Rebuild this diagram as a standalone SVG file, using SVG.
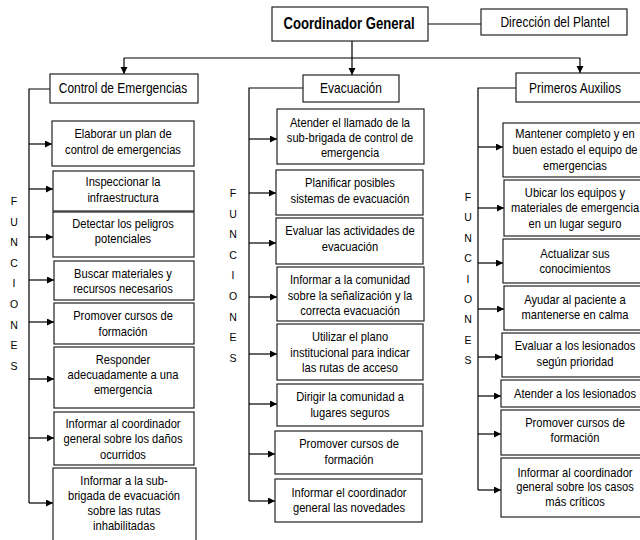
<svg xmlns="http://www.w3.org/2000/svg" width="640" height="540" viewBox="0 0 640 540">
<defs>
<marker id="ah" markerUnits="userSpaceOnUse" markerWidth="8" markerHeight="8" refX="7" refY="3.5" orient="auto">
<path d="M0,0 L7,3.5 L0,7 Z" fill="#000"/>
</marker>
<style>
text{font-family:"Liberation Sans",Arial,sans-serif;fill:#000;text-anchor:middle}
.b{font-size:13.6px}
.h{font-size:14.6px}
.t{font-size:16px;font-weight:bold}
.f{font-size:10.5px}
rect{fill:#fff;stroke:#222;stroke-width:1.2}
.c{fill:none;stroke:#000;stroke-width:1.2}
.a{marker-end:url(#ah)}
</style>
</defs>
<rect x="0" y="0" width="640" height="540" style="fill:#fff;stroke:none"/>

<g id="connectors">
<path class="c" d="M428,24 H481"/>
<path class="c" d="M352,41 V58 M124,58 H580"/>
<path class="c a" d="M124,58 V74"/>
<path class="c a" d="M352,58 V75"/>
<path class="c a" d="M580,58 V73"/>
<path class="c" d="M50,89 H29 V503"/>
<path class="c a" d="M29,144 H52"/>
<path class="c a" d="M29,189 H53"/>
<path class="c a" d="M29,237 H53"/>
<path class="c a" d="M29,280 H54"/>
<path class="c a" d="M29,322 H54"/>
<path class="c a" d="M29,379 H54"/>
<path class="c a" d="M29,438 H54"/>
<path class="c a" d="M29,503 H53"/>
<path class="c" d="M303,88 H249 V501"/>
<path class="c a" d="M249,139 H277"/>
<path class="c a" d="M249,193 H276"/>
<path class="c a" d="M249,243 H276"/>
<path class="c a" d="M249,297 H277"/>
<path class="c a" d="M249,354 H277"/>
<path class="c a" d="M249,404 H277"/>
<path class="c a" d="M249,454 H275"/>
<path class="c a" d="M249,501 H275"/>
<path class="c" d="M516,88 H478 V490"/>
<path class="c a" d="M478,147 H503"/>
<path class="c a" d="M478,208 H504"/>
<path class="c a" d="M478,263 H503"/>
<path class="c a" d="M478,309 H504"/>
<path class="c a" d="M478,357 H502"/>
<path class="c a" d="M478,396 H501"/>
<path class="c a" d="M478,434 H501"/>
<path class="c a" d="M478,490 H501"/>
</g>

<g id="coordinador"><rect x="272" y="7" width="156" height="34"/><g transform="translate(349 0) scale(.82 1)"><text class="t" x="0" y="29">Coordinador General</text></g></g>
<g id="direccion"><rect x="481" y="9" width="146" height="26"/><g transform="translate(555 0) scale(.82 1)"><text class="h" x="0" y="27">Dirección del Plantel</text></g></g>
<g id="control"><rect x="50" y="74" width="148" height="29"/><g transform="translate(123 0) scale(.82 1)"><text class="h" x="0" y="93">Control de Emergencias</text></g></g>
<g id="evacuacion"><rect x="303" y="75" width="96" height="27"/><g transform="translate(351 0) scale(.82 1)"><text class="h" x="0" y="93">Evacuación</text></g></g>
<g id="primeros"><rect x="516" y="73" width="140" height="29"/><g transform="translate(575 0) scale(.82 1)"><text class="h" x="0" y="93">Primeros Auxilios</text></g></g>

<g id="funciones-1"><text class="f"><tspan x="14" y="205">F</tspan><tspan x="14" y="226">U</tspan><tspan x="14" y="246">N</tspan><tspan x="14" y="267">C</tspan><tspan x="14" y="287">I</tspan><tspan x="14" y="308">O</tspan><tspan x="14" y="329">N</tspan><tspan x="14" y="349">E</tspan><tspan x="14" y="370">S</tspan></text></g>
<g id="funciones-2"><text class="f"><tspan x="233" y="197">F</tspan><tspan x="233" y="218">U</tspan><tspan x="233" y="238">N</tspan><tspan x="233" y="259">C</tspan><tspan x="233" y="279">I</tspan><tspan x="233" y="300">O</tspan><tspan x="233" y="321">N</tspan><tspan x="233" y="341">E</tspan><tspan x="233" y="362">S</tspan></text></g>
<g id="funciones-3"><text class="f"><tspan x="468" y="201">F</tspan><tspan x="468" y="221">U</tspan><tspan x="468" y="242">N</tspan><tspan x="468" y="262">C</tspan><tspan x="468" y="283">I</tspan><tspan x="468" y="303">O</tspan><tspan x="468" y="323">N</tspan><tspan x="468" y="344">E</tspan><tspan x="468" y="364">S</tspan></text></g>

<g id="ce1"><rect x="52" y="121" width="142" height="45"/><g transform="translate(123 0) scale(.82 1)"><text class="b"><tspan x="0" y="138">Elaborar un plan de</tspan><tspan x="0" y="154">control de emergencias</tspan></text></g></g>
<g id="ce2"><rect x="53" y="171" width="141" height="40"/><g transform="translate(123 0) scale(.82 1)"><text class="b"><tspan x="0" y="186">Inspeccionar la</tspan><tspan x="0" y="202">infraestructura</tspan></text></g></g>
<g id="ce3"><rect x="53" y="212" width="141" height="45"/><g transform="translate(123 0) scale(.82 1)"><text class="b"><tspan x="0" y="228">Detectar los peligros</tspan><tspan x="0" y="243">potenciales</tspan></text></g></g>
<g id="ce4"><rect x="54" y="261" width="140" height="39"/><g transform="translate(123 0) scale(.82 1)"><text class="b"><tspan x="0" y="278">Buscar materiales y</tspan><tspan x="0" y="293">recursos necesarios</tspan></text></g></g>
<g id="ce5"><rect x="54" y="303" width="140" height="41"/><g transform="translate(123 0) scale(.82 1)"><text class="b"><tspan x="0" y="320">Promover cursos de</tspan><tspan x="0" y="336">formación</tspan></text></g></g>
<g id="ce6"><rect x="54" y="347" width="140" height="61"/><g transform="translate(123 0) scale(.82 1)"><text class="b"><tspan x="0" y="364">Responder</tspan><tspan x="0" y="379">adecuadamente a una</tspan><tspan x="0" y="394">emergencia</tspan></text></g></g>
<g id="ce7"><rect x="54" y="412" width="140" height="53"/><g transform="translate(123 0) scale(.82 1)"><text class="b"><tspan x="0" y="428">Informar al coordinador</tspan><tspan x="0" y="443">general sobre los daños</tspan><tspan x="0" y="459">ocurridos</tspan></text></g></g>
<g id="ce8"><rect x="53" y="468" width="143" height="80"/><g transform="translate(124 0) scale(.82 1)"><text class="b"><tspan x="0" y="485">Informar a la sub-</tspan><tspan x="0" y="500">brigada de evacuación</tspan><tspan x="0" y="515">sobre las rutas</tspan><tspan x="0" y="530">inhabilitadas</tspan></text></g></g>

<g id="ev1"><rect x="277" y="109" width="147" height="55"/><g transform="translate(350 0) scale(.82 1)"><text class="b"><tspan x="0" y="127">Atender el llamado de la</tspan><tspan x="0" y="142">sub-brigada de control de</tspan><tspan x="0" y="157">emergencia</tspan></text></g></g>
<g id="ev2"><rect x="276" y="170" width="147" height="45"/><g transform="translate(350 0) scale(.82 1)"><text class="b"><tspan x="0" y="187">Planificar posibles</tspan><tspan x="0" y="203">sistemas de evacuación</tspan></text></g></g>
<g id="ev3"><rect x="276" y="218" width="147" height="46"/><g transform="translate(350 0) scale(.82 1)"><text class="b"><tspan x="0" y="235">Evaluar las actividades de</tspan><tspan x="0" y="251">evacuación</tspan></text></g></g>
<g id="ev4"><rect x="277" y="267" width="147" height="54"/><g transform="translate(350 0) scale(.82 1)"><text class="b"><tspan x="0" y="284">Informar a la comunidad</tspan><tspan x="0" y="300">sobre la señalización y la</tspan><tspan x="0" y="315">correcta evacuación</tspan></text></g></g>
<g id="ev5"><rect x="277" y="324" width="146" height="56"/><g transform="translate(350 0) scale(.82 1)"><text class="b"><tspan x="0" y="341">Utilizar el plano</tspan><tspan x="0" y="357">institucional para indicar</tspan><tspan x="0" y="372">las rutas de acceso</tspan></text></g></g>
<g id="ev6"><rect x="277" y="384" width="146" height="42"/><g transform="translate(350 0) scale(.82 1)"><text class="b"><tspan x="0" y="401">Dirigir la comunidad a</tspan><tspan x="0" y="417">lugares seguros</tspan></text></g></g>
<g id="ev7"><rect x="275" y="431" width="147" height="43"/><g transform="translate(349 0) scale(.82 1)"><text class="b"><tspan x="0" y="448">Promover cursos de</tspan><tspan x="0" y="464">formación</tspan></text></g></g>
<g id="ev8"><rect x="275" y="479" width="147" height="43"/><g transform="translate(349 0) scale(.82 1)"><text class="b"><tspan x="0" y="497">Informar el coordinador</tspan><tspan x="0" y="512">general las novedades</tspan></text></g></g>

<g id="pa1"><rect x="503" y="123" width="146" height="54"/><g transform="translate(575 0) scale(.82 1)"><text class="b"><tspan x="0" y="138">Mantener completo y en</tspan><tspan x="0" y="154">buen estado el equipo de</tspan><tspan x="0" y="170">emergencias</tspan></text></g></g>
<g id="pa2"><rect x="504" y="180" width="145" height="56"/><g transform="translate(575 0) scale(.82 1)"><text class="b"><tspan x="0" y="197">Ubicar los equipos y</tspan><tspan x="0" y="212">materiales de emergencia</tspan><tspan x="0" y="228">en un lugar seguro</tspan></text></g></g>
<g id="pa3"><rect x="503" y="239" width="146" height="44"/><g transform="translate(575 0) scale(.82 1)"><text class="b"><tspan x="0" y="258">Actualizar sus</tspan><tspan x="0" y="273">conocimientos</tspan></text></g></g>
<g id="pa4"><rect x="504" y="286" width="145" height="44"/><g transform="translate(575 0) scale(.82 1)"><text class="b"><tspan x="0" y="304">Ayudar al paciente a</tspan><tspan x="0" y="319">mantenerse en calma</tspan></text></g></g>
<g id="pa5"><rect x="502" y="333" width="147" height="44"/><g transform="translate(575 0) scale(.82 1)"><text class="b"><tspan x="0" y="350">Evaluar a los lesionados</tspan><tspan x="0" y="366">según prioridad</tspan></text></g></g>
<g id="pa6"><rect x="501" y="380" width="148" height="27"/><g transform="translate(575 0) scale(.82 1)"><text class="b"><tspan x="0" y="398">Atender a los lesionados</tspan></text></g></g>
<g id="pa7"><rect x="501" y="410" width="148" height="45"/><g transform="translate(575 0) scale(.82 1)"><text class="b"><tspan x="0" y="427">Promover cursos de</tspan><tspan x="0" y="442">formación</tspan></text></g></g>
<g id="pa8"><rect x="501" y="458" width="148" height="59"/><g transform="translate(575 0) scale(.82 1)"><text class="b"><tspan x="0" y="477">Informar al coordinador</tspan><tspan x="0" y="491">general sobre los casos</tspan><tspan x="0" y="506">más críticos</tspan></text></g></g>
</svg>
